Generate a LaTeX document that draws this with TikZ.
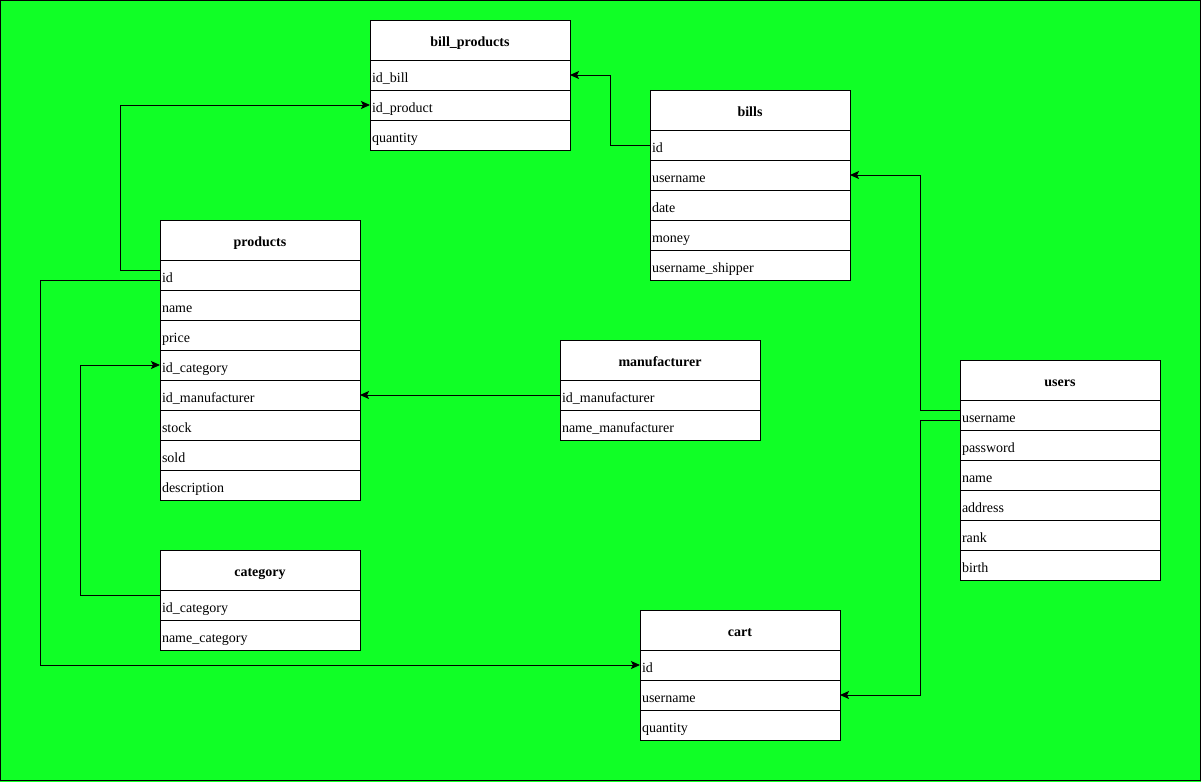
\documentclass[tikz,border=0pt]{standalone}
\usepackage{fontspec}
\setmainfont{Liberation Serif}
\usetikzlibrary{positioning,arrows.meta}
\definecolor{bggreen}{RGB}{16,255,38}

\begin{document}
\begin{tikzpicture}[x=1pt,y=-1pt,
  tbl/.style={draw,fill=white,line width=1pt,outer sep=0pt,inner sep=0pt,minimum width=200pt,minimum height=40pt,text height=14pt,text depth=2pt,anchor=north west,font=\fontsize{14}{16}\selectfont\bfseries},
  fld/.style={draw,fill=white,line width=1pt,outer sep=0pt,inner xsep=2pt,inner ysep=0pt,text width=196pt,minimum height=30pt,align=left,text height=16pt,text depth=1pt,font=\fontsize{14}{16}\selectfont,below=0pt of #1},
  link/.style={line width=1pt,-{Stealth[length=9pt,width=8pt,inset=2pt]}}]
  \useasboundingbox (0,0) rectangle (1201,782);
  \fill[bggreen] (0,0) rectangle (1201,782);
  \draw[line width=1pt] (0.5,0.5) rectangle (1200.5,780.5);

  \node[tbl] (bp) at (370,20) {bill\_products};
  \node[fld=bp] (bpbill) {id\_bill};
  \node[fld=bpbill] (bpproduct) {id\_product};
  \node[fld=bpproduct] (bpqty) {quantity};

  \node[tbl] (bill) at (650,90) {bills};
  \node[fld=bill] (billid) {id};
  \node[fld=billid] (billuser) {username};
  \node[fld=billuser] (billdate) {date};
  \node[fld=billdate] (billmoney) {money};
  \node[fld=billmoney] (billship) {username\_shipper};

  \node[tbl] (pr) at (160,220) {products};
  \node[fld=pr] (prid) {id};
  \node[fld=prid] (prname) {name};
  \node[fld=prname] (prprice) {price};
  \node[fld=prprice] (prcat) {id\_category};
  \node[fld=prcat] (prmanuf) {id\_manufacturer};
  \node[fld=prmanuf] (prstock) {stock};
  \node[fld=prstock] (prsold) {sold};
  \node[fld=prsold] (prdesc) {description};

  \node[tbl] (mf) at (560,340) {manufacturer};
  \node[fld=mf] (mfid) {id\_manufacturer};
  \node[fld=mfid] (mfname) {name\_manufacturer};

  \node[tbl] (us) at (960,360) {users};
  \node[fld=us] (usname) {username};
  \node[fld=usname] (uspass) {password};
  \node[fld=uspass] (usrealname) {name};
  \node[fld=usrealname] (usaddr) {address};
  \node[fld=usaddr] (usrank) {rank};
  \node[fld=usrank] (usbirth) {birth};

  \node[tbl] (cat) at (160,550) {category};
  \node[fld=cat] (catid) {id\_category};
  \node[fld=catid] (catname) {name\_category};

  \node[tbl] (cart) at (640,610) {cart};
  \node[fld=cart] (cartid) {id};
  \node[fld=cartid] (cartuser) {username};
  \node[fld=cartuser] (cartqty) {quantity};

  \draw[link] (billid.west) -- ++(-40,0) |- (bpbill.east);
  \draw[link] ([yshift=5pt]prid.west) -- ++(-40,0) |- (bpproduct.west);
  \draw[link] ([yshift=-5pt]prid.west) -- ++(-120,0) |- (cartid.west);
  \draw[link] ([yshift=5pt]usname.west) -- ++(-40,0) |- (billuser.east);
  \draw[link] ([yshift=-5pt]usname.west) -- ++(-40,0) |- (cartuser.east);
  \draw[link] (mfid.west) -- (prmanuf.east);
  \draw[link] ([yshift=10pt]catid.west) -- ++(-80,0) |- (prcat.west);
\end{tikzpicture}
\end{document}
